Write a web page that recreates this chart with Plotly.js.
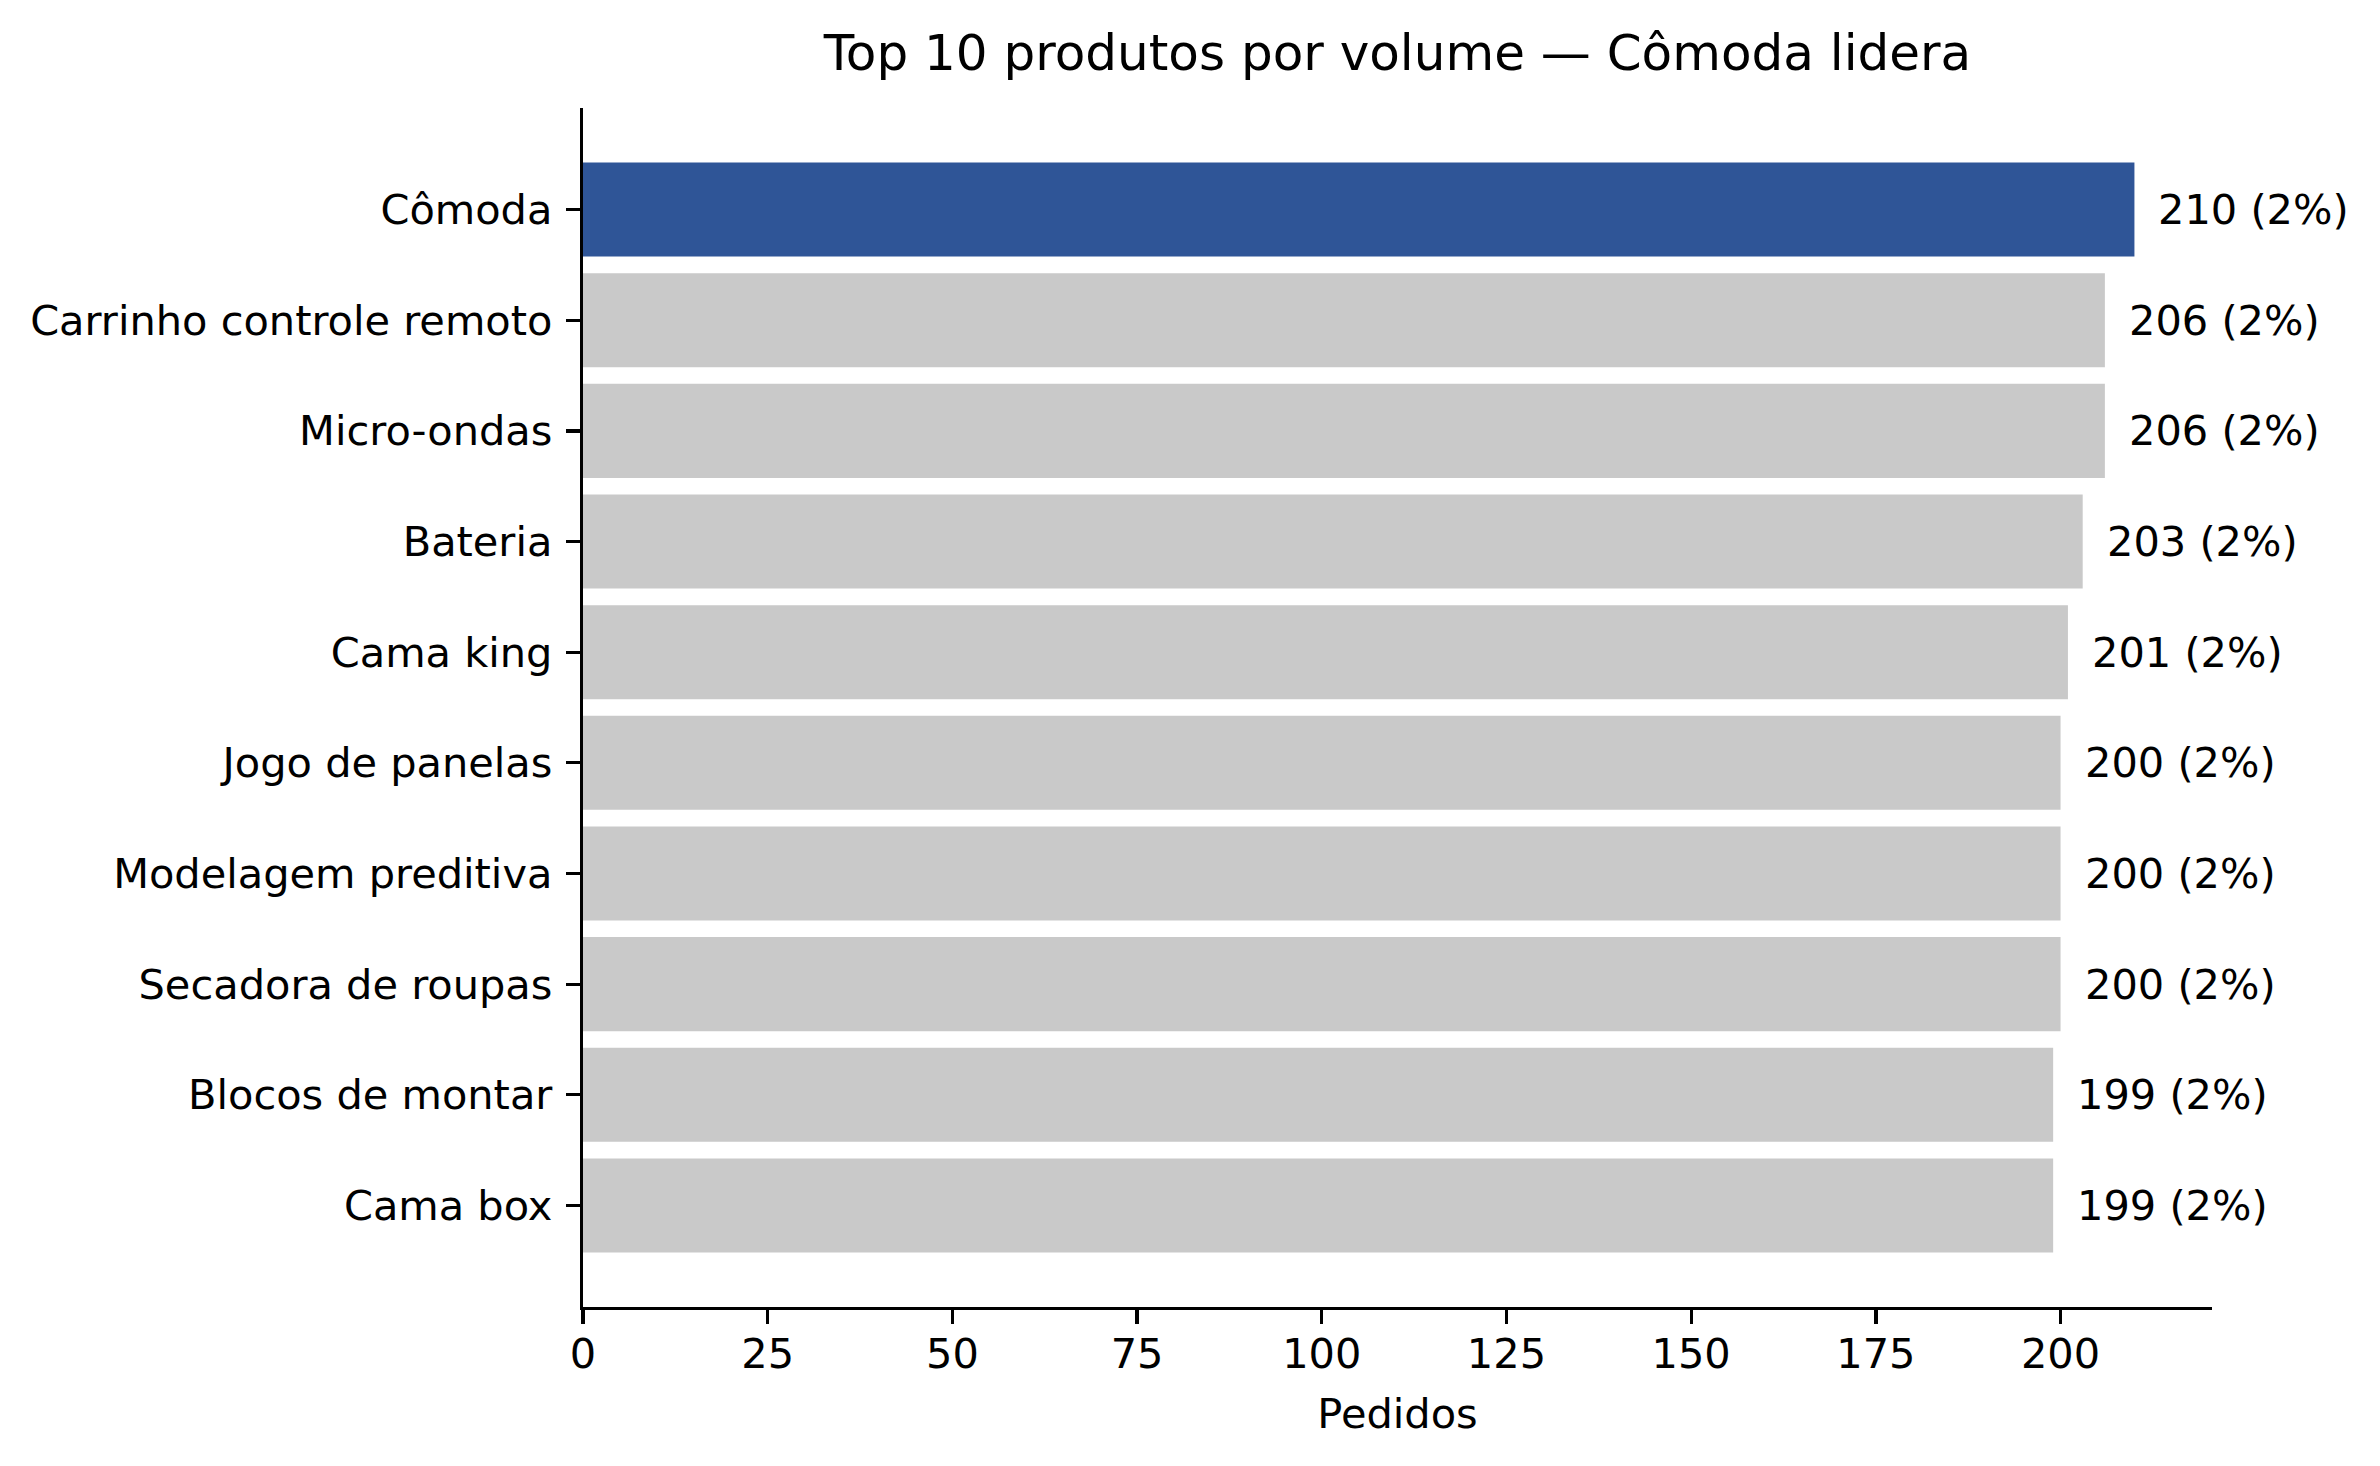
<!DOCTYPE html>
<html>
<head>
<meta charset="utf-8">
<script src="https://cdn.plot.ly/plotly-3.0.1.min.js"></script>
<style>
  html, body { margin: 0; padding: 0; background: #fff; }
  #chart { width: 2380px; height: 1466px; }
</style>
</head>
<body>
<div id="chart"></div>
<script>
var produtos = ['Cômoda', 'Carrinho controle remoto', 'Micro-ondas', 'Bateria', 'Cama king',
                'Jogo de panelas', 'Modelagem preditiva', 'Secadora de roupas', 'Blocos de montar', 'Cama box'];
var pedidos = [210, 206, 206, 203, 201, 200, 200, 200, 199, 199];
var percentuais = ['2%', '2%', '2%', '2%', '2%', '2%', '2%', '2%', '2%', '2%'];
var xTicks = [0, 25, 50, 75, 100, 125, 150, 175, 200];

var corDestaque = '#2f5597';
var corBase = '#c9c9c9';
var cores = produtos.map(function (p, i) { return i === 0 ? corDestaque : corBase; });

var fonte = 'DejaVu Sans, sans-serif';
var tam = 41.5;

var trace = {
    type: 'bar',
    orientation: 'h',
    x: pedidos,
    y: produtos,
    width: 0.85,
    marker: { color: cores, line: { width: 0 } },
    hoverinfo: 'x+y',
    showlegend: false
};

var rotulos = produtos.map(function (p, i) {
    return {
        x: pedidos[i],
        y: p,
        xref: 'x',
        yref: 'y',
        text: pedidos[i] + ' (' + percentuais[i] + ')',
        showarrow: false,
        xanchor: 'left',
        yanchor: 'middle',
        xshift: 22,
        font: { family: fonte, size: tam, color: '#000' }
    };
});

var layout = {
    width: 2380,
    height: 1466,
    paper_bgcolor: '#fff',
    plot_bgcolor: '#fff',
    font: { family: fonte, size: tam, color: '#000' },
    margin: { l: 583, r: 168, t: 108, b: 159 },
    title: {
        text: 'Top 10 produtos por volume — Cômoda lidera',
        font: { family: fonte, size: 50, color: '#000' },
        x: 0.5,
        xanchor: 'center',
        xref: 'paper',
        yref: 'container',
        y: 0.964,
        yanchor: 'middle'
    },
    xaxis: {
        range: [0, 220.5],
        tickvals: xTicks,
        ticks: 'outside',
        ticklen: 14,
        tickwidth: 3.3,
        tickcolor: '#000',
        showline: true,
        linewidth: 3.3,
        linecolor: '#000',
        showgrid: false,
        zeroline: false,
        ticklabelstandoff: -6,
        tickfont: { family: fonte, size: tam, color: '#000' },
        title: { text: 'Pedidos', standoff: 23, font: { family: fonte, size: tam, color: '#000' } }
    },
    yaxis: {
        type: 'category',
        categoryorder: 'array',
        categoryarray: produtos,
        range: [9.9175, -0.9175],
        ticks: 'outside',
        ticklen: 14,
        tickwidth: 3.3,
        tickcolor: '#000',
        showline: true,
        linewidth: 3.3,
        linecolor: '#000',
        showgrid: false,
        zeroline: false,
        ticklabelstandoff: 5,
        tickfont: { family: fonte, size: tam, color: '#000' }
    },
    annotations: rotulos
};

Plotly.newPlot('chart', [trace], layout, { displayModeBar: false, staticPlot: true });
</script>
</body>
</html>
